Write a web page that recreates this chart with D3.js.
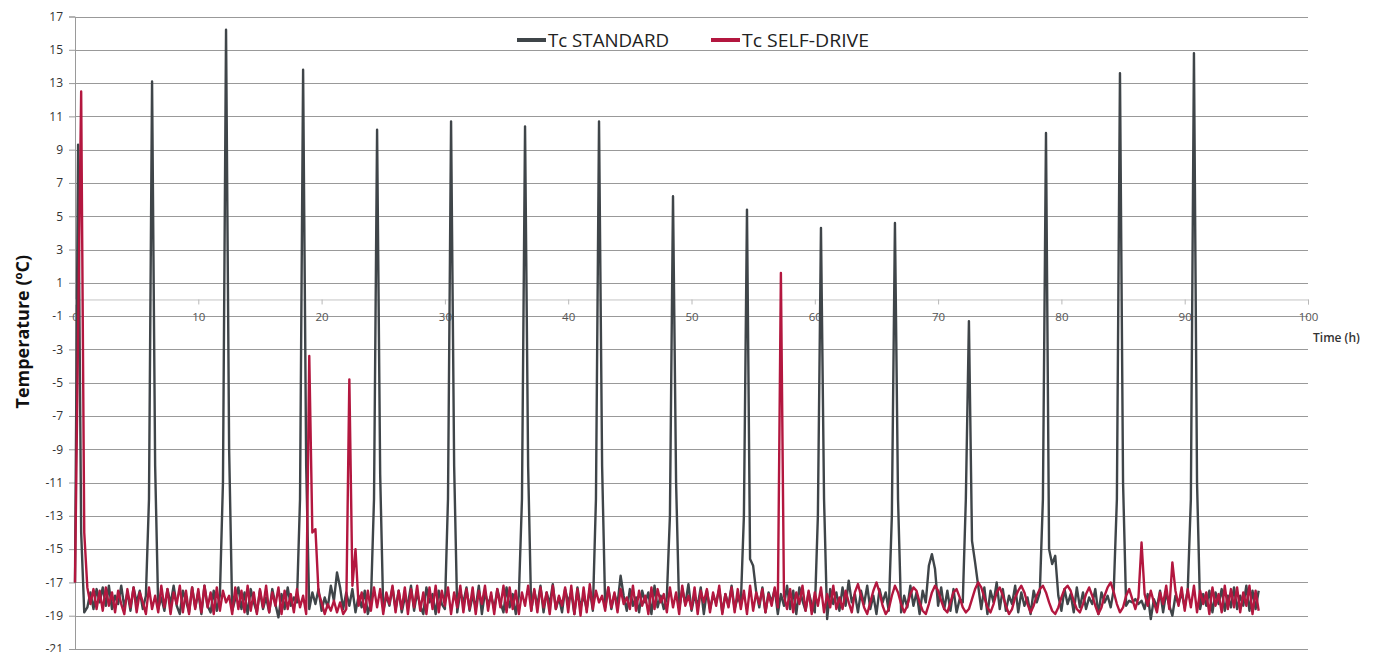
<!DOCTYPE html>
<html>
<head>
<meta charset="utf-8">
<script src="https://cdn.jsdelivr.net/npm/d3@7/dist/d3.min.js"></script>
<style>
  html, body { margin: 0; padding: 0; background: #ffffff; }
  svg { display: block; }
</style>
</head>
<body>
<svg id="chart" width="1382" height="652"></svg>
<script>
// ---------------- DATA ----------------
const seriesNames = ["Tc STANDARD", "Tc SELF-DRIVE"];
const sampleStepHours = 0.25;            // one reading every 15 min, 0 h … 96 h
const yTickValues = [17, 15, 13, 11, 9, 7, 5, 3, 1, -1, -3, -5, -7, -9, -11, -13, -15, -17, -19, -21];
const xTickValues = [0, 10, 20, 30, 40, 50, 60, 70, 80, 90, 100];
const yTitle = "Temperature (ºC)";
const xTitle = "Time (h)";

// Tc STANDARD (ºC), one value per 0.25 h
const tcStandard = [
  -17.0, 9.3, -14.0, -18.8, -18.5, -17.6, -18.6, -17.4,
  -18.2, -17.3, -18.4, -17.2, -18.6, -17.8, -18.3, -17.2,
  -18.5, -17.6, -18.7, -17.3, -18.2, -17.5, -18.6, -17.8,
  -12.0, 13.1, -10.0, -18.6, -17.9, -18.7, -17.4, -18.3,
  -17.2, -18.4, -18.9, -17.5, -18.1, -18.8, -17.3, -18.5,
  -17.6, -18.9, -17.2, -18.4, -18.8, -17.5, -18.7, -17.8,
  -11.0, 16.2, -9.0, -18.7, -18.0, -17.3, -18.6, -17.6,
  -18.9, -17.4, -18.2, -18.8, -17.5, -18.6, -17.9, -18.8,
  -17.4, -18.3, -19.1, -17.7, -18.6, -17.3, -18.4, -17.9,
  -18.2, -12.0, 13.8, -10.0, -18.6, -17.6, -18.3, -17.4,
  -18.7, -17.9, -18.5, -17.2, -18.1, -16.4, -17.3, -18.6,
  -17.6, -18.4, -17.4, -18.8, -17.8, -18.5, -17.5, -18.9,
  -18.2, -12.0, 10.2, -10.5, -18.7, -17.8, -18.4, -17.3,
  -18.6, -17.5, -18.8, -17.9, -18.3, -17.2, -18.7, -17.6,
  -18.4, -18.9, -17.3, -18.2, -17.7, -18.9, -17.5, -18.3,
  -18.6, -12.0, 10.7, -10.0, -18.8, -17.6, -18.2, -17.3,
  -18.7, -17.8, -18.5, -17.2, -18.9, -17.6, -18.3, -17.8,
  -18.6, -17.4, -18.2, -18.8, -17.3, -18.5, -17.7, -18.9,
  -17.8, -12.0, 10.4, -10.0, -18.7, -17.5, -18.4, -17.2,
  -18.8, -17.6, -18.3, -17.1, -18.6, -17.9, -18.8, -17.4,
  -18.2, -17.6, -18.9, -17.3, -18.5, -17.8, -18.6, -17.4,
  -18.7, -12.0, 10.7, -10.0, -18.5, -17.3, -18.6, -17.7,
  -18.3, -16.6, -17.8, -18.7, -17.4, -18.4, -17.9, -18.8,
  -17.5, -18.2, -17.6, -18.9, -17.2, -18.5, -17.8, -18.6,
  -17.9, -13.0, 6.2, -11.0, -18.6, -17.4, -18.3, -17.1,
  -18.7, -17.8, -18.4, -17.3, -18.9, -17.5, -18.6, -17.8,
  -18.2, -17.4, -18.8, -17.7, -18.4, -17.2, -18.6, -17.9,
  -18.3, -13.0, 5.4, -15.6, -16.0, -17.6, -18.5, -17.3,
  -18.8, -17.6, -18.2, -17.4, -18.9, -17.7, -18.4, -17.2,
  -18.6, -17.5, -18.9, -17.3, -18.1, -18.7, -17.6, -18.3,
  -18.8, -13.0, 4.3, -12.0, -19.2, -17.4, -18.3, -17.6,
  -18.7, -17.3, -18.4, -16.9, -18.2, -17.7, -18.8, -17.5,
  -18.3, -17.2, -18.6, -17.8, -18.9, -17.4, -18.2, -17.6,
  -18.7, -13.0, 4.6, -12.0, -18.8, -17.8, -18.5, -17.2,
  -18.4, -17.6, -18.9, -17.5, -18.2, -16.0, -15.3, -16.2,
  -18.4, -17.3, -18.6, -17.5, -18.7, -17.4, -18.8, -18.0,
  -18.2, -12.0, -1.3, -14.5, -15.8, -17.2, -18.6, -17.3,
  -18.9, -17.5, -18.2, -17.0, -18.6, -17.4, -18.7, -17.8,
  -18.3, -17.2, -18.8, -17.6, -18.4, -17.9, -18.9, -17.5,
  -18.2, -17.6, -12.0, 10.0, -15.0, -15.9, -15.4, -17.8,
  -18.7, -17.4, -18.3, -17.7, -18.8, -17.3, -18.5, -17.6,
  -18.6, -17.9, -18.3, -17.4, -18.9, -17.6, -18.2, -17.8,
  -18.5, -17.4, -12.0, 13.6, -11.0, -18.4, -18.1, -18.2,
  -18.0, -18.3, -18.1, -18.6, -17.7, -19.2, -18.0, -18.5,
  -17.5, -18.8, -17.6, -18.4, -19.0, -17.8, -18.3, -17.6,
  -18.5, -17.4, -12.0, 14.8, -11.0, -18.6, -17.7, -18.4,
  -17.5, -18.8, -17.6, -18.3, -17.4, -18.7, -17.8, -18.5,
  -17.3, -18.6, -17.8, -18.4, -17.2, -18.7, -17.5, -18.6,
  -17.5
];

// Tc SELF-DRIVE (ºC), one value per 0.25 h
const tcSelfDrive = [
  -17.0, -2.0, 12.5, -14.0, -17.3, -18.3, -17.4, -18.6,
  -17.5, -18.7, -17.3, -18.4, -17.6, -18.8, -17.5, -18.3,
  -18.9, -17.4, -18.5, -17.3, -18.8, -17.6, -18.2, -18.9,
  -17.3, -18.6, -17.8, -18.8, -17.2, -18.5, -17.4, -18.9,
  -17.6, -18.3, -17.2, -18.8, -17.5, -18.9, -17.3, -18.6,
  -17.4, -18.8, -17.2, -18.5, -17.6, -18.9, -17.3, -18.7,
  -17.5, -18.2, -17.8, -18.9, -17.3, -18.6, -17.5, -18.8,
  -17.2, -18.7, -17.6, -18.9, -17.4, -18.5, -17.2, -18.8,
  -17.6, -18.4, -17.3, -18.9, -17.5, -18.6, -17.7, -18.8,
  -17.4, -18.5, -17.8, -18.9, -3.4, -14.0, -13.8, -17.6,
  -18.2, -18.9, -18.3, -18.7, -18.1, -18.8, -18.2, -18.9,
  -18.6, -4.8, -17.2, -15.0, -18.4, -17.6, -18.8, -17.5,
  -18.7, -17.3, -18.5, -17.4, -18.9, -17.6, -18.3, -17.2,
  -18.8, -17.5, -18.6, -17.3, -18.9, -17.4, -18.5, -17.2,
  -18.7, -17.6, -18.9, -17.3, -18.6, -17.2, -18.8, -17.5,
  -18.4, -17.3, -18.9, -17.6, -18.5, -17.2, -18.8, -17.4,
  -18.6, -17.3, -18.9, -17.5, -18.3, -17.2, -18.7, -17.6,
  -18.9, -17.4, -18.5, -17.2, -18.8, -17.3, -18.6, -17.5,
  -18.9, -17.6, -18.4, -17.2, -18.7, -17.4, -18.8, -17.3,
  -18.5, -17.6, -18.9, -17.2, -18.6, -17.8, -18.4, -17.3,
  -18.8, -17.2, -18.9, -17.4, -19.0, -17.3, -18.8, -17.1,
  -18.6, -17.5, -18.2, -17.8, -18.7, -17.3, -18.5, -17.6,
  -18.8, -17.4, -18.3, -17.9, -18.6, -17.2, -18.7, -17.5,
  -18.4, -17.8, -18.9, -17.3, -18.6, -17.4, -18.2, -17.7,
  -18.8, -17.3, -18.5, -17.6, -18.9, -17.2, -18.4, -17.8,
  -18.6, -17.3, -18.9, -17.5, -18.2, -17.4, -18.8, -17.6,
  -18.4, -17.2, -18.9, -17.7, -18.5, -17.3, -18.8, -17.4,
  -18.6, -17.5, -18.9, -17.2, -18.7, -17.6, -18.3, -17.4,
  -18.8, -17.7, -18.4, -17.3, -18.5, 1.6, -17.8, -18.6,
  -17.4, -18.8, -17.6, -18.3, -17.2, -18.7, -17.5, -18.9,
  -17.6, -18.4, -17.3, -18.8, -17.7, -18.5, -17.2, -18.6,
  -17.9, -18.6, -17.5, -18.2, -18.8, -17.6, -17.1, -17.8,
  -18.5, -18.9, -18.2, -17.5, -17.0, -17.6, -18.4, -18.9,
  -18.6, -17.8, -17.2, -17.6, -18.3, -18.8, -18.4, -17.7,
  -17.3, -17.5, -18.2, -18.7, -18.9, -18.3, -17.6, -17.2,
  -17.5, -18.1, -18.6, -18.8, -18.2, -17.6, -17.4, -17.9,
  -18.5, -18.8, -18.6, -18.0, -17.4, -17.0, -17.3, -17.9,
  -18.5, -18.8, -18.3, -17.6, -17.3, -17.8, -18.4, -18.9,
  -18.6, -17.9, -17.5, -17.2, -17.6, -18.3, -18.8, -18.4,
  -17.8, -17.4, -17.2, -17.6, -18.2, -18.7, -18.9, -18.5,
  -17.9, -17.4, -17.2, -17.5, -18.1, -18.6, -18.8, -18.3,
  -17.7, -17.3, -17.8, -18.4, -18.9, -18.5, -17.8, -17.3,
  -17.0, -17.6, -18.3, -18.8, -18.5, -17.8, -17.4, -18.0,
  -18.6, -17.9, -14.6, -17.7, -18.4, -17.5, -18.2, -18.8,
  -17.6, -18.3, -17.2, -18.6, -15.8, -17.5, -18.4, -17.3,
  -18.7, -17.4, -18.5, -17.2, -18.8, -17.5, -18.3, -17.6,
  -18.9, -17.3, -18.4, -17.7, -18.8, -17.2, -18.6, -17.4,
  -18.5, -17.3, -18.8, -17.6, -18.4, -17.2, -18.9, -17.5,
  -18.7
];

// ---------------- CHART ----------------
const svg = d3.select("#chart");
const colors = ["#3f4549", "#b3173f"];

const x = d3.scaleLinear().domain([0, 100]).range([75, 1308]);
const y = d3.scaleLinear().domain([-21, 17]).range([649, 16.5]);

// y axis (ticks + labels)
const yAxis = d3.axisLeft(y).tickValues(yTickValues).tickSize(6).tickPadding(6)
  .tickFormat(d => d3.format("d")(d).replace("−", "-"));
const gy = svg.append("g").attr("transform", `translate(${x(0)},0)`).call(yAxis);
gy.select(".domain").attr("stroke", "#9a9a9a");
gy.selectAll(".tick line").attr("stroke", "#999999");
gy.selectAll(".tick text")
  .attr("fill", "#333").style("font-family", "'Open Sans', sans-serif").style("font-size", "12px");

// horizontal gridlines
svg.append("g").selectAll("line").data(yTickValues).join("line")
  .attr("x1", x(0)).attr("x2", x(100))
  .attr("y1", d => Math.round(y(d)) + 0.5).attr("y2", d => Math.round(y(d)) + 0.5)
  .attr("stroke", "#999999").attr("stroke-width", 1);

// x axis crossing at y = 0
const xAxis = d3.axisBottom(x).tickValues(xTickValues).tickSize(5).tickPadding(8)
  .tickFormat(d3.format("d"));
const gx = svg.append("g").attr("transform", `translate(0,${y(0)})`).call(xAxis);
gx.select(".domain").attr("stroke", "#c4c4c4");
gx.selectAll(".tick line").attr("stroke", "#b8b8b8");
gx.selectAll(".tick text")
  .attr("fill", "#555").style("font-family", "'Open Sans', sans-serif").style("font-size", "11.5px");

svg.append("text")
  .attr("x", 1313).attr("y", 342)
  .attr("fill", "#333")
  .style("font-family", "'Open Sans', sans-serif").style("font-size", "12px").style("font-weight", "600")
  .text(xTitle);

svg.append("text")
  .attr("transform", `translate(29,${(y(17) + y(-21)) / 2 - 1}) rotate(-90)`)
  .attr("text-anchor", "middle")
  .attr("fill", "#111")
  .style("font-family", "'Open Sans', sans-serif").style("font-size", "18px").style("font-weight", "700")
  .text(yTitle);

// lines
const line = d3.line()
  .x((d, i) => x(i * sampleStepHours))
  .y(d => y(d));

[tcStandard, tcSelfDrive].forEach((s, k) => {
  svg.append("path").datum(s)
    .attr("fill", "none")
    .attr("stroke", colors[k])
    .attr("stroke-width", 2.4)
    .attr("stroke-linejoin", "round")
    .attr("d", line);
});

// legend
const legendItems = [
  { name: seriesNames[0], x0: 517, w: 121, color: colors[0] },
  { name: seriesNames[1], x0: 711, w: 127, color: colors[1] }
];
const lg = svg.append("g");
legendItems.forEach(it => {
  lg.append("line").attr("x1", it.x0).attr("x2", it.x0 + 29)
    .attr("y1", 40).attr("y2", 40)
    .attr("stroke", it.color).attr("stroke-width", 4);
  lg.append("text").attr("x", it.x0 + 31).attr("y", 47)
    .attr("fill", "#222")
    .attr("textLength", it.w).attr("lengthAdjust", "spacingAndGlyphs")
    .style("font-family", "'Open Sans', sans-serif").style("font-size", "18px")
    .text(it.name);
});
</script>
</body>
</html>
